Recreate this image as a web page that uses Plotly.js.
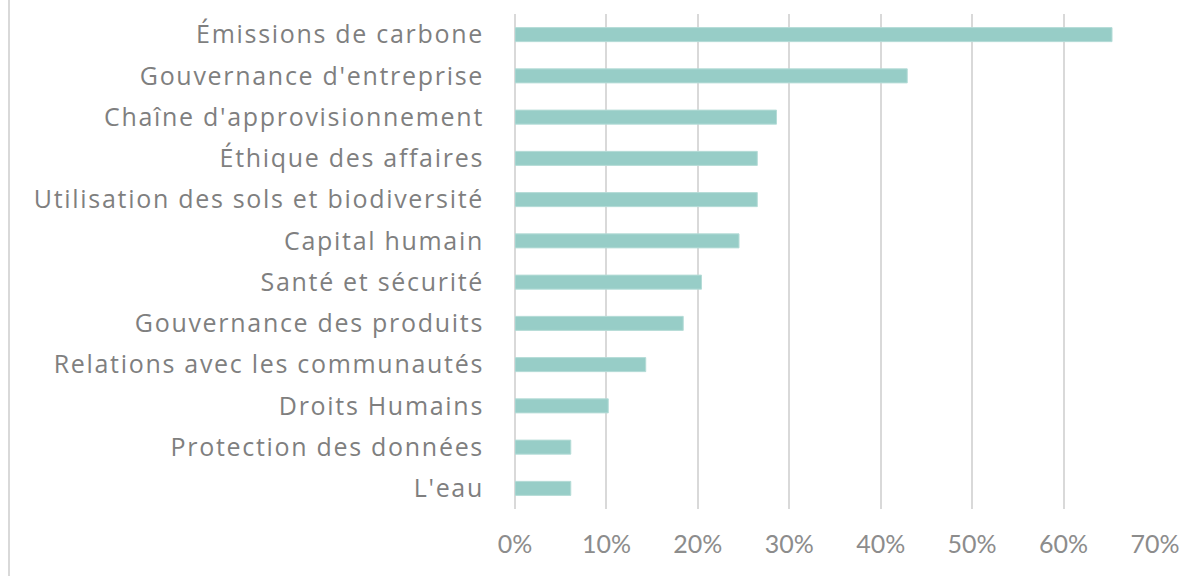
<!DOCTYPE html>
<html>
<head>
<meta charset="utf-8">
<script src="https://cdn.plot.ly/plotly-3.0.1.min.js"></script>
<style>
body{margin:0;padding:0;background:#fff}
#chart{width:1204px;height:576px}
#chart .ytick text{letter-spacing:1.7px}
</style>
</head>
<body>
<div id="chart"></div>
<script>
const categories = [
  "Émissions de carbone",
  "Gouvernance d'entreprise",
  "Chaîne d'approvisionnement",
  "Éthique des affaires",
  "Utilisation des sols et biodiversité",
  "Capital humain",
  "Santé et sécurité",
  "Gouvernance des produits",
  "Relations avec les communautés",
  "Droits Humains",
  "Protection des données",
  "L'eau"
];
const values = [0.653, 0.429, 0.286, 0.265, 0.265, 0.245, 0.204, 0.184, 0.143, 0.102, 0.061, 0.061];
const tickVals = [0, 0.1, 0.2, 0.3, 0.4, 0.5, 0.6, 0.7];
const tickText = ["0%", "10%", "20%", "30%", "40%", "50%", "60%", "70%"];

const W = 1204, H = 576;
const margin = {l: 515, r: 49, t: 14, b: 67};
const plotW = W - margin.l - margin.r;
const leftLineX = (9 - margin.l) / plotW;

const data = [{
  type: 'bar',
  orientation: 'h',
  y: categories,
  x: values,
  marker: {color: '#97cdc7', line: {color: '#b5dcd7', width: 1}},
  width: 0.34,
  hoverinfo: 'x+y'
}];

const layout = {
  width: W, height: H,
  margin: margin,
  paper_bgcolor: '#ffffff',
  plot_bgcolor: '#ffffff',
  showlegend: false,
  font: {family: '"Open Sans", sans-serif', color: '#878787'},
  xaxis: {
    range: [0, 0.7],
    tickvals: tickVals,
    ticktext: tickText,
    showgrid: true,
    gridcolor: '#d9d9d9',
    gridwidth: 2,
    zeroline: true,
    zerolinecolor: '#d9d9d9',
    zerolinewidth: 2,
    showline: false,
    ticks: '',
    tickfont: {family: 'Lato, sans-serif', size: 25, color: '#8c8c8c'},
    ticklabelstandoff: 18,
    fixedrange: true
  },
  yaxis: {
    autorange: 'reversed',
    type: 'category',
    showgrid: false,
    zeroline: false,
    showline: false,
    ticks: '',
    tickfont: {family: '"Open Sans", sans-serif', size: 25, color: '#7f7f7f'},
    ticklabelstandoff: 30,
    fixedrange: true
  },
  shapes: [{
    type: 'line', xref: 'paper', yref: 'paper',
    x0: leftLineX, x1: leftLineX, y0: -1, y1: 2,
    line: {color: '#d9d9d9', width: 2}
  }]
};

Plotly.newPlot('chart', data, layout, {displayModeBar: false, staticPlot: true});
</script>
</body>
</html>
